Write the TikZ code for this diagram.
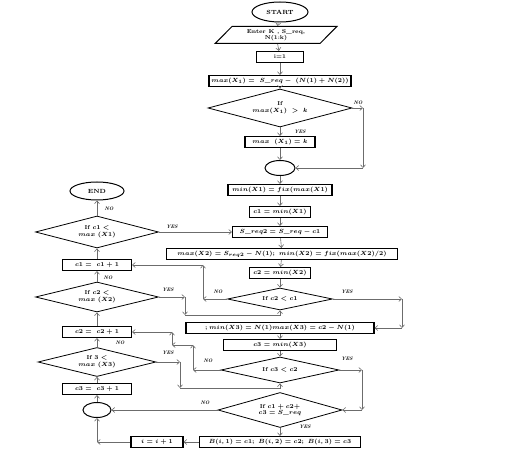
\documentclass[tikz,border=0pt]{standalone}
\usetikzlibrary{shapes.geometric,arrows.meta}
\begin{document}
\begin{tikzpicture}[x=1pt,y=-1pt,
  box/.style={draw,line width=1.1pt,minimum height=11pt,inner sep=1pt,font=\fontsize{5.6}{6.5}\selectfont\bfseries\boldmath},
  dia/.style={draw,diamond,aspect=3,inner sep=0pt,line width=0.8pt,align=center,font=\fontsize{5.6}{6.5}\selectfont\bfseries\boldmath},
  term/.style={draw,ellipse,line width=1pt,font=\fontsize{6}{7}\selectfont\bfseries},
  io/.style={draw,trapezium,trapezium left angle=50,trapezium right angle=130,trapezium stretches=true,line width=1pt,align=center,inner sep=1pt,font=\fontsize{5.6}{6.5}\selectfont\bfseries},
  joint/.style={draw,ellipse,line width=1pt,minimum width=30pt,minimum height=15pt},
  line/.style={draw,gray!85!black,line width=0.6pt,-{Straight Barb[length=2.8pt,width=5pt]}},
  lab/.style={font=\tiny\bfseries\itshape,inner sep=0pt}]
\useasboundingbox (0,0) rectangle (525,470);
% main column
\node[term,minimum width=56pt,minimum height=20pt] (start) at (280,12) {START};
\node[io,minimum width=122pt,minimum height=17pt] (enter) at (276,35) {Enter K , S\_req,\\N(1:k)};
\node[box,minimum width=47pt] (init) at (280,57) {i=1};
\node[box,minimum width=142pt] (mx1) at (280,81) {$max(X_1) = \;S\_req - \;(N(1)+N(2))$};
\node[dia,minimum width=144pt,minimum height=38pt] (d1) at (280,108) {If\\$max(X_1)\;>\;k$};
\node[box,minimum width=70pt] (setk) at (280,142) {$max\;\;(X_1) = k$};
\node[joint] (j1) at (280,168) {};
\node[box,minimum width=104pt] (mn1) at (280,190) {$min(X1) = fix(max(X1)$};
\node[box,minimum width=61pt] (c1) at (280,212) {$c1 = min(X1)$};
\node[box,minimum width=95pt] (sreq2) at (280,232) {$S\_req2 = S\_req - c1$};
\node[box,minimum width=231pt] (mx2) at (282,254) {$max(X2) = S_{req2} - N(1);\; min(X2) = fix(max(X2)/2)$};
\node[box,minimum width=61pt] (c2) at (280,273) {$c2 = min(X2)$};
\node[dia,minimum width=105pt,minimum height=22pt] (d2) at (280,299) {If $c2 < c1$};
\node[box,minimum width=188pt] (mx3) at (280,328) {$;min(X3) = N(1)max(X3) = c2 - N(1)$};
\node[box,minimum width=113pt] (c3) at (280,345) {$c3 = min(X3)$};
\node[dia,minimum width=118pt,minimum height=26pt] (d3) at (280,370) {If $c3 < c2$};
\node[dia,minimum width=124pt,minimum height=35pt] (d4) at (280,410) {If $c1+c2+$\\$c3 = S\_req$};
\node[box,minimum width=161pt] (res) at (280,442) {$B(i,1) = c1;\; B(i,2) = c2;\; B(i,3) = c3$};
\node[box,minimum width=52pt] (inc) at (157,442) {$i = i+1$};
% left column
\node[term,minimum width=54pt,minimum height=18pt] (end) at (97,191) {END};
\node[dia,minimum width=123pt,minimum height=32pt] (l1) at (97,232) {If $c1<$\\$max\;(X1)$};
\node[box,minimum width=69pt] (a1) at (97,265) {$c1 = \;c1+1$};
\node[dia,minimum width=123pt,minimum height=30pt] (l2) at (97,297) {If $c2<$\\$max\;(X2)$};
\node[box,minimum width=69pt] (a2) at (97,332) {$c2 = \;c2+1$};
\node[dia,minimum width=118pt,minimum height=29pt] (l3) at (97,362) {If $3<$\\$max\;(X3)$};
\node[box,minimum width=69pt] (a3) at (97,389) {$c3 = \;c3+1$};
\node[joint,minimum width=28pt] (j2) at (97,410) {};
% bend points
\coordinate (n1a) at (363,108); \coordinate (n1b) at (363,168);
\coordinate (y2a) at (402,299); \coordinate (y2b) at (402,328);
\coordinate (n2a) at (203,299); \coordinate (n2b) at (203,265);
\coordinate (y3a) at (362,370); \coordinate (y3b) at (362,410);
\coordinate (n3a) at (193,370); \coordinate (n3b) at (193,345);
\coordinate (n3c) at (172,345); \coordinate (n3d) at (172,332);
\coordinate (q2a) at (185,297); \coordinate (q2b) at (185,315); \coordinate (q2c) at (280,315);
\coordinate (q3a) at (180,362); \coordinate (q3b) at (180,388); \coordinate (q3c) at (280,388);
\coordinate (k1) at (97,442);
% straight arrows
\foreach \a/\b in {start/enter,enter/init,init/mx1,mx1/d1,d1/setk,setk/j1,j1/mn1,mn1/c1,c1/sreq2,sreq2/mx2,mx2/c2,c2/d2,mx3/c3,c3/d3,d4/res,
  j2/a3,a3/l3,l3/a2,a2/l2,l2/a1,a1/l1,l1/end}
  \draw[line] (\a) -- (\b);
\draw[line] (d1.east) -- (n1a);
\draw[line] (n1a) -- (n1b);
\draw[line] (n1b) -- (j1.east);
\draw[line] (d2.east) -- (y2a);
\draw[line] (y2a) -- (y2b);
\draw[line] (y2b) -- (mx3.east);
\draw[line] (d2.west) -- (n2a);
\draw[line] (n2a) -- (n2b);
\draw[line] (n2b) -- (a1.east);
\draw[line] (d3.east) -- (y3a);
\draw[line] (y3a) -- (y3b);
\draw[line] (y3b) -- (d4.east);
\draw[line] (d3.west) -- (n3a);
\draw[line] (n3a) -- (n3b);
\draw[line] (n3b) -- (n3c);
\draw[line] (n3c) -- (n3d);
\draw[line] (n3d) -- (a2.east);
\draw[line] (l1.east) -- (sreq2.west);
\draw[line] (l2.east) -- (q2a);
\draw[line] (q2a) -- (q2b);
\draw[line] (q2b) -- (q2c) -- (d2.south);
\draw[line] (l3.east) -- (q3a);
\draw[line] (q3a) -- (q3b);
\draw[line] (q3b) -- (q3c) -- (d3.south);
\draw[line] (d4.west) -- (j2.east);
\draw[line] (res.west) -- (inc.east);
\draw[line] (inc.west) -- (k1);
\draw[line] (k1) -- (j2.south);
% labels
\node[lab] (t1) at (358,103) {NO};
\node[lab] (t2) at (300,132) {YES};
\node[lab] (t3) at (172,227) {YES};
\node[lab] (t4) at (109,209) {NO};
\node[lab] (t5) at (108,278) {NO};
\node[lab] (t6) at (168,290) {YES};
\node[lab] (t7) at (218,292) {NO};
\node[lab] (t8) at (347,292) {YES};
\node[lab] (t9) at (120,343) {NO};
\node[lab] (t10) at (168,353) {YES};
\node[lab] (t11) at (208,361) {NO};
\node[lab] (t12) at (347,359) {YES};
\node[lab] (t13) at (205,403) {NO};
\node[lab] (t14) at (305,427) {YES};
\end{tikzpicture}
\end{document}
